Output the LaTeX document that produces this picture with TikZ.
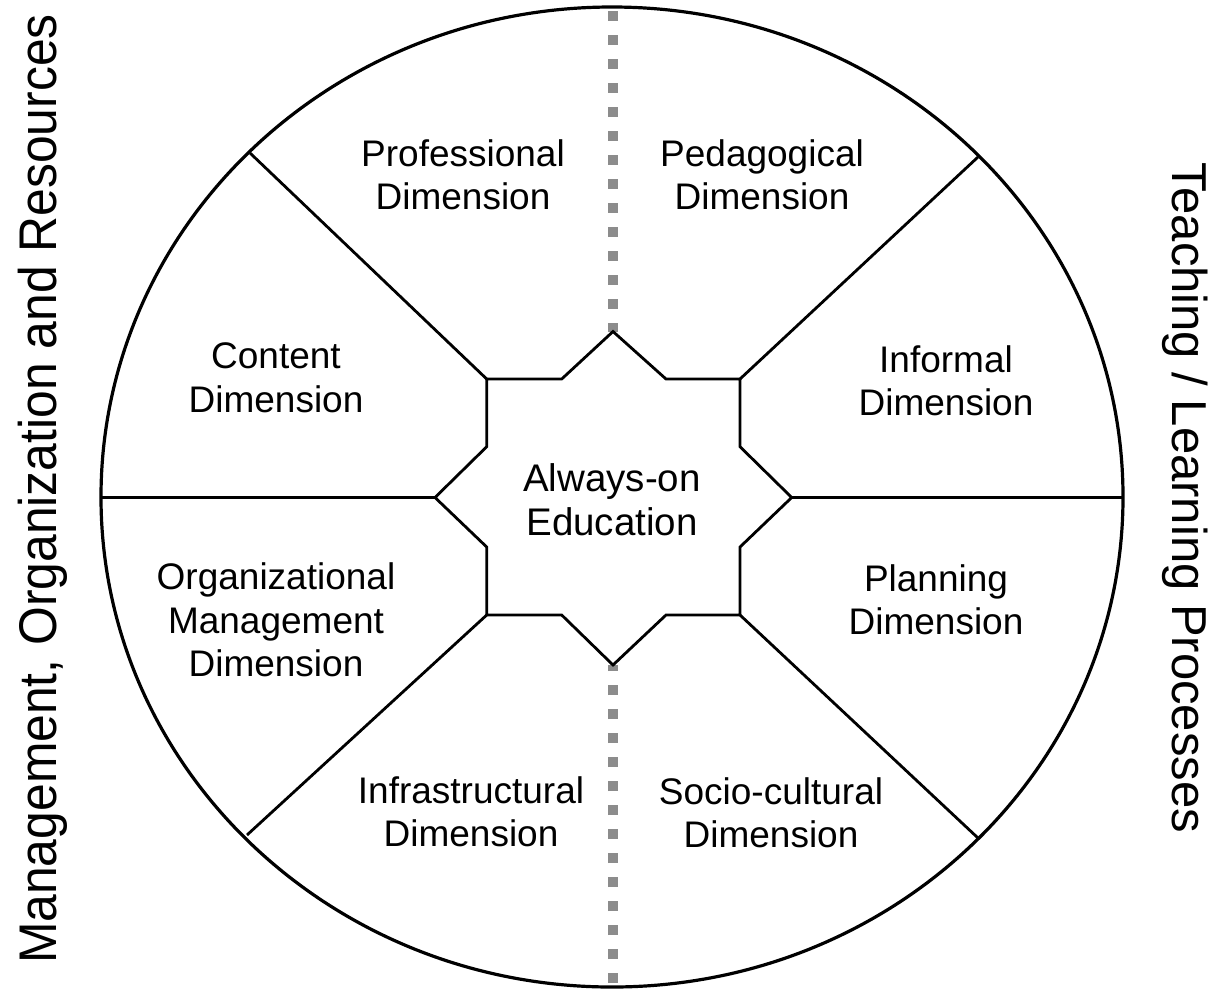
\documentclass[tikz,border=0pt]{standalone}
\usepackage{fontspec}
\setmainfont{Liberation Sans}
\newfontfamily\sidefont[FakeStretch=0.94]{Liberation Sans}
\begin{document}
\begin{tikzpicture}[x=1pt,y=-1pt,
  outline/.style={line width=3.2pt,black},
  divider/.style={line width=2.8pt,black},
  axisline/.style={line width=10pt,black!45,dash pattern=on 10pt off 14pt},
  label/.style={font=\fontsize{37}{43.5}\selectfont,align=center,inner sep=0pt},
  biglabel/.style={font=\fontsize{38.5}{44}\selectfont,align=center,inner sep=0pt},
  sidelabel/.style={font=\sidefont\fontsize{53}{60}\selectfont,inner sep=0pt,anchor=base},
  sidelabelR/.style={font=\fontsize{49}{56}\selectfont,inner sep=0pt,anchor=base}]
\useasboundingbox (0,0) rectangle (1214,989);
\fill[white] (0,0) rectangle (1214,989);
% star vertices
\coordinate (tl) at (486.7,379);
\coordinate (tr) at (740,379);
\coordinate (bl) at (486.7,615);
\coordinate (br) at (740,615);
\coordinate (ttip) at (613,331.5);
\coordinate (btip) at (613,665);
\coordinate (ltip) at (435,497.5);
\coordinate (rtip) at (791.7,497.5);
% ellipse points
\coordinate (etop) at (613,7);
\coordinate (ebot) at (613,987);
\coordinate (eleft) at (101,497.5);
\coordinate (eright) at (1123,497.5);
\coordinate (etl) at (250,153);
\coordinate (etr) at (978,157);
\coordinate (ebl) at (247,835);
\coordinate (ebr) at (978,838);
% dashed axis
\draw[axisline] (etop) ++(0,4) -- (ttip);
\draw[axisline] (ebot) ++(0,-4) -- (btip);
% outer ellipse
\draw[outline] (612,497) ellipse [x radius=511, y radius=490];
% dividers
\draw[divider] (tl) -- (etl);
\draw[divider] (tr) -- (etr);
\draw[divider] (bl) -- (ebl);
\draw[divider] (br) -- (ebr);
\draw[divider] (ltip) -- (eleft);
\draw[divider] (rtip) -- (eright);
% star
\draw[divider,line join=miter] (tl) -- (561.7,379) -- (ttip) -- (666,379) -- (tr)
  -- (740,446.7) -- (rtip) -- (740,547) -- (br) -- (666,615) -- (btip)
  -- (561.7,615) -- (bl) -- (486.7,547) -- (ltip) -- (486.7,446.7) -- cycle;
% labels
\node[biglabel] (center) at (612,500) {Always-on\\Education};
\node[label] (prof) at (463,175) {Professional\\Dimension};
\node[label] (peda) at (762,175) {Pedagogical\\Dimension};
\node[label] (cont) at (276,378) {Content\\Dimension};
\node[label] (info) at (946,381) {Informal\\Dimension};
\node[label] (orga) at (276,620) {Organizational\\Management\\Dimension};
\node[label] (plan) at (936,600) {Planning\\Dimension};
\node[label] (infra) at (471,812) {Infrastructural\\Dimension};
\node[label] (socio) at (771,813) {Socio-cultural\\Dimension};
% side labels
\node[sidelabel,rotate=90] (left) at (56,489) {Management, Organization and Resources};
\node[sidelabelR,rotate=-90] (right) at (1172,498) {Teaching / Learning Processes};
\end{tikzpicture}
\end{document}
